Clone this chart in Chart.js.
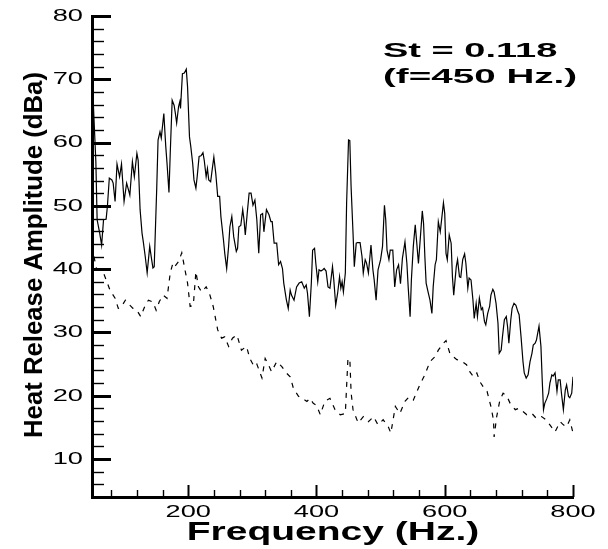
<!DOCTYPE html>
<html>
<head>
<meta charset="utf-8">
<script src="https://cdn.jsdelivr.net/npm/chart.js@4/dist/chart.umd.min.js"></script>
<style>
  html, body { margin: 0; padding: 0; background: #fff; }
  canvas { display: block; }
</style>
</head>
<body>
<canvas id="spectrum" width="608" height="549"></canvas>
<script>
// Solid curve (upper spectrum)
const freqSolid = [50,56,58,62,65,68,72,74,77,81,83,86,89,93,96,100,104,107,109,113,116,120,122,125,128,130,133,136,140,143,145,147,151,153,156,158,162,165,167,170,172,175,178,180,182,185,187,188,191,194,197,199,202,204,207,209,212,214,217,220,223,225,228,230,232,235,238,240,243,246,249,251,255,257,260,263,265,268,271,275,277,279,282,285,287,289,292,295,298,301,304,307,310,313,316,318,322,326,329,331,334,338,341,344,347,349,353,356,359,361,365,369,373,377,381,384,386,389,392,394,397,399,402,404,407,410,412,415,418,421,425,427,430,433,436,438,440,442,445,447,450,452,454,457,459,462,464,468,471,473,476,478,481,485,488,490,493,496,500,503,506,508,510,513,515,519,522,525,528,531,534,538,541,543,546,548,551,554,556,559,561,565,567,569,571,574,577,580,582,585,587,590,593,595,598,600,602,604,607,610,612,614,618,620,623,625,628,631,633,636,638,641,644,646,649,651,654,657,659,662,664,667,670,672,675,677,680,683,685,688,690,693,696,698,700,703,705,708,711,714,716,719,722,724,727,730,733,736,738,741,743,747,750,752,754,756,759,762,764,767,769,772,775,777,780,782,785,788,790,793,795,798,800];
const ampSolid = [71,57,47.8,45.7,43.8,47.8,47.9,49.9,54.4,54.1,53.6,50.7,56.6,54.6,56.6,50.7,53.6,52.5,51.7,57,54.6,58.3,57.2,49.4,45.7,44.3,42,39.4,43.6,41.5,40.2,40.4,53,60.4,61.7,60.7,64.6,59.4,56.7,52.1,58.3,66.7,65.9,64.6,63.1,65.7,66.5,65.4,70.9,71,71.6,68.8,60.9,59.4,56.7,54.1,52.8,54.6,57.8,57.9,58.4,57.2,54.6,55.9,54.1,53.8,56.2,57.7,55.1,51.5,51.5,48.3,44.6,42.5,40.1,43.6,46.7,48.3,45.1,42.8,43.3,46.7,46.9,49.4,47.8,45.4,48.8,52,52,50.1,50.9,47.8,42.5,48.6,48.8,45.9,49.4,48.6,47.5,47.5,44.1,44.1,40.7,41.2,40.1,37.8,35.2,33.8,36.7,35.9,35.1,37.2,37.8,38,37,37.5,36.2,32.5,37.8,43,43.3,40.9,38,39.9,39.7,39.9,40.1,39.7,37.2,37,40.4,38.3,34.3,36.2,38.8,37,38,36.4,39.4,50.4,60.4,60.3,53,45.7,40.4,44.1,44.2,44.2,42,39.4,41.5,41,39.4,43.8,39.9,38.3,35.1,39.9,41.5,43.6,50.1,47.8,43,41.5,43,43,37.2,39.9,40.7,37.7,41.7,44.3,40.9,37.2,32.5,38.3,43.6,47,44.6,40.9,43.6,49.2,47.2,42,37.8,36.4,35.1,33,37.2,40.7,41.5,47.5,45.9,47.7,50.5,48.8,42.5,41.5,45.4,44.1,38.8,35.9,40.4,41.5,38.8,38.7,41.5,42.4,40.9,37,38.6,38.3,35.1,32.2,34.6,32.5,35.4,33.6,33.9,31.7,31.2,33,34.1,35.9,36.8,36.4,34.6,31.5,26.7,27.2,29.3,32,32.5,30.9,28.3,32,33.8,34.6,34.3,33.3,32.8,29.3,25.4,23.6,22.8,23.3,25.4,26.7,28,28.3,28.8,31,27.8,22.5,17.8,18.8,19.5,20.4,22,23.3,23.1,23.6,20.7,22.5,22.5,20.4,17.8,20.9,21.7,19.9,19.7,20.4,23];

// Dashed curve (lower spectrum)
const freqDashed = [53,57,68,78,86,91,96,102,107,114,120,126,133,138,145,150,155,161,167,172,176,179,185,190,194,199,203,208,212,216,221,228,233,239,243,246,252,257,263,269,276,283,291,296,303,307,315,320,325,330,338,346,353,359,364,372,379,385,390,395,400,406,413,421,429,437,445,449,452,454,457,465,473,481,489,496,504,512,516,523,530,538,544,551,561,569,577,585,590,598,602,608,613,619,627,634,639,645,650,655,660,666,672,676,677,681,686,691,697,702,710,715,722,728,736,743,751,758,764,772,780,785,790,795,800];
const ampDashed = [42,40.1,39.4,36.7,35.4,33.8,34.1,35.1,34.5,33.8,33.5,32.5,34.3,35.1,34.8,33.5,34.9,35.9,35.4,39.4,40.9,40.4,41.2,42.6,40.4,37.8,34.1,34.3,39.6,37.2,36.4,37.2,36.2,34.1,32,30.4,29.1,29.3,27.8,29.1,29.6,27.2,27.8,25.9,24.6,25,22.8,25.9,24.9,23.8,25.4,24.6,23.6,23,21.2,19.9,19.5,19.1,19.6,18.8,18.5,17,19.1,19.6,17.8,17,17.2,25.7,25.9,20.5,17.8,15.7,16.7,15.9,16.7,15.4,16.2,15.1,14.1,18.3,17.2,19.1,19.8,19.3,21.7,23.3,25.4,26.2,27.2,28.3,28.7,26.7,26.2,25.7,25.4,24.9,23.8,23,23.6,22.2,21.4,20.7,18.3,16.2,13.5,16.7,19.3,20.4,19.9,18.8,17.8,18,17.5,17,17.2,16.4,16.7,16.2,15.4,14.3,15.9,15.4,15.1,16.2,14.1];

// Axes
const xRange = [50, 800];
const yRange = [4, 80];
const xTickLabels = [200, 400, 600, 800];
const yTickLabels = [10, 20, 30, 40, 50, 60, 70, 80];
const xMinorStep = 40;
const yMinorStep = 2;

const xTitle = 'Frequency (Hz.)';
const yTitle = 'Heat Release Amplitude (dBa)';
const noteLines = ['St = 0.118', '(f=450 Hz.)'];

const FONT = "'Liberation Sans', Arial, Helvetica, sans-serif";

function toPoints(xs, ys) {
    return xs.map((x, i) => ({ x: x, y: ys[i] }));
}

// draws text stretched horizontally, like the original plot fonts
function wideText(ctx, txt, x, y, sx, align) {
    ctx.save();
    ctx.translate(x, y);
    ctx.scale(sx, 1);
    ctx.textAlign = align;
    ctx.fillText(txt, 0, 0);
    ctx.restore();
}

function tick(ctx, x1, y1, x2, y2, w) {
    ctx.lineWidth = w;
    ctx.beginPath();
    ctx.moveTo(x1, y1);
    ctx.lineTo(x2, y2);
    ctx.stroke();
}

const decorPlugin = {
    id: 'decor',
    afterDraw(chart) {
        const { ctx, chartArea: a, scales: { x, y } } = chart;
        ctx.save();
        ctx.strokeStyle = '#000';
        ctx.fillStyle = '#000';
        ctx.lineCap = 'butt';

        // y ticks pointing into the plot
        for (let v = yRange[0] + yMinorStep; v <= yRange[1]; v += yMinorStep) {
            const py = Math.round(y.getPixelForValue(v)) + 0.5;
            if (yTickLabels.includes(v)) tick(ctx, a.left, py, a.left + 19, py, 3);
            else tick(ctx, a.left, py, a.left + 12, py, 1.4);
        }
        // x ticks
        for (let v = 80; v <= xRange[1]; v += xMinorStep) {
            const px = Math.round(x.getPixelForValue(v)) + 0.5;
            if (xTickLabels.includes(v)) tick(ctx, px, a.bottom, px, a.bottom - 12, 2);
            else tick(ctx, px, a.bottom, px, a.bottom - 7, 1.4);
        }

        // tick labels
        ctx.font = '16px ' + FONT;
        ctx.textBaseline = 'middle';
        yTickLabels.forEach(v => {
            wideText(ctx, String(v), 83, y.getPixelForValue(v) + 0.5, 1.7, 'right');
        });
        ctx.textBaseline = 'alphabetic';
        xTickLabels.forEach(v => {
            wideText(ctx, String(v), x.getPixelForValue(v), 517, 1.7, 'center');
        });

        // axis titles
        ctx.font = 'bold 25px ' + FONT;
        wideText(ctx, xTitle, 333, 540, 1.56, 'center');

        ctx.save();
        ctx.translate(42, 255);
        ctx.rotate(-Math.PI / 2);
        ctx.font = 'bold 25px ' + FONT;
        const w = ctx.measureText(yTitle).width;
        wideText(ctx, yTitle, 0, 0, 366 / w, 'center');
        ctx.restore();

        // annotation
        ctx.font = 'bold 20px ' + FONT;
        wideText(ctx, noteLines[0], 383, 57, 1.9, 'left');
        wideText(ctx, noteLines[1], 383, 83, 1.93, 'left');

        ctx.restore();
    }
};

new Chart(document.getElementById('spectrum').getContext('2d'), {
    type: 'line',
    data: {
        datasets: [
            {
                data: toPoints(freqSolid, ampSolid),
                borderColor: '#000',
                borderWidth: 1.2,
                pointRadius: 0,
                tension: 0,
                fill: false
            },
            {
                data: toPoints(freqDashed, ampDashed),
                borderColor: '#000',
                borderWidth: 1.2,
                borderDash: [5, 6],
                pointRadius: 0,
                tension: 0,
                fill: false
            }
        ]
    },
    options: {
        responsive: false,
        animation: false,
        devicePixelRatio: 1,
        layout: { padding: { left: 92, top: 16, right: 35, bottom: 52 } },
        plugins: { legend: { display: false }, tooltip: { enabled: false } },
        scales: {
            x: {
                type: 'linear',
                min: xRange[0],
                max: xRange[1],
                ticks: { display: false },
                grid: { display: true, drawOnChartArea: false, drawTicks: false },
                border: { display: true, color: '#000', width: 3 },
                afterFit: s => { s.height = 0; }
            },
            y: {
                min: yRange[0],
                max: yRange[1],
                ticks: { display: false },
                grid: { display: true, drawOnChartArea: false, drawTicks: false },
                border: { display: true, color: '#000', width: 3 },
                afterFit: s => { s.width = 0; }
            }
        }
    },
    plugins: [decorPlugin]
});
</script>
</body>
</html>
